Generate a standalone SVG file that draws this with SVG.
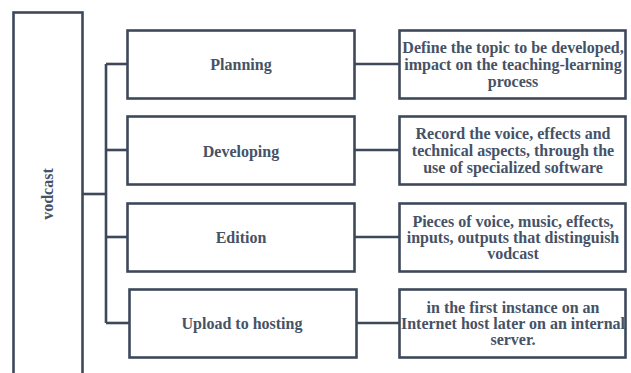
<svg xmlns="http://www.w3.org/2000/svg" width="631" height="373" viewBox="0 0 631 373">
<style>
.box{fill:#fff;stroke:#3d495b;stroke-width:2.6}
.ln{fill:none;stroke:#3d495b;stroke-width:2.6}
text{font-family:"Liberation Serif","Times New Roman",serif;font-weight:bold;font-size:16px;fill:#465266;text-anchor:middle}
</style>
<rect width="631" height="373" fill="#fff"/>
<g id="connectors">
<polyline class="ln" points="82,194 106,194"/>
<polyline class="ln" points="106,64 106,323"/>
<polyline class="ln" points="106,64 127,64"/>
<polyline class="ln" points="106,150 127,150"/>
<polyline class="ln" points="106,237 127,237"/>
<polyline class="ln" points="106,323 129,323"/>
<polyline class="ln" points="354,64 399,64"/>
<polyline class="ln" points="354,150 399,150"/>
<polyline class="ln" points="354,237 399,237"/>
<polyline class="ln" points="356,323 399,323"/>
</g>
<g id="vodcast">
<rect class="box" x="13.5" y="12.5" width="69" height="400"/>
<text transform="translate(53,194) rotate(-90)">vodcast</text>
</g>
<g id="planning">
<rect class="box" x="127.5" y="30.5" width="227" height="68"/>
<text x="241" y="70">Planning</text>
</g>
<g id="developing">
<rect class="box" x="127.5" y="116.5" width="227" height="68"/>
<text x="241" y="157">Developing</text>
</g>
<g id="edition">
<rect class="box" x="127.5" y="203.5" width="227" height="68"/>
<text x="241" y="243">Edition</text>
</g>
<g id="upload">
<rect class="box" x="129.5" y="289.5" width="227" height="68"/>
<text x="242" y="329">Upload to hosting</text>
</g>
<g id="planning-desc">
<rect class="box" x="399.5" y="30.5" width="226" height="68"/>
<text x="513" y="53">Define the topic to be developed,</text>
<text x="513" y="70">impact on the teaching-learning</text>
<text x="513" y="87">process</text>
</g>
<g id="developing-desc">
<rect class="box" x="399.5" y="116.5" width="226" height="68"/>
<text x="513" y="139">Record the voice, effects and</text>
<text x="513" y="156">technical aspects, through the</text>
<text x="513" y="173">use of specialized software</text>
</g>
<g id="edition-desc">
<rect class="box" x="399.5" y="203.5" width="226" height="68"/>
<text x="513" y="227">Pieces of voice, music, effects,</text>
<text x="513" y="243">inputs, outputs that distinguish</text>
<text x="513" y="259">vodcast</text>
</g>
<g id="upload-desc">
<rect class="box" x="399.5" y="289.5" width="226" height="68"/>
<text x="513" y="313">in the first instance on an</text>
<text x="513" y="329">Internet host later on an internal</text>
<text x="513" y="345">server.</text>
</g>
</svg>
